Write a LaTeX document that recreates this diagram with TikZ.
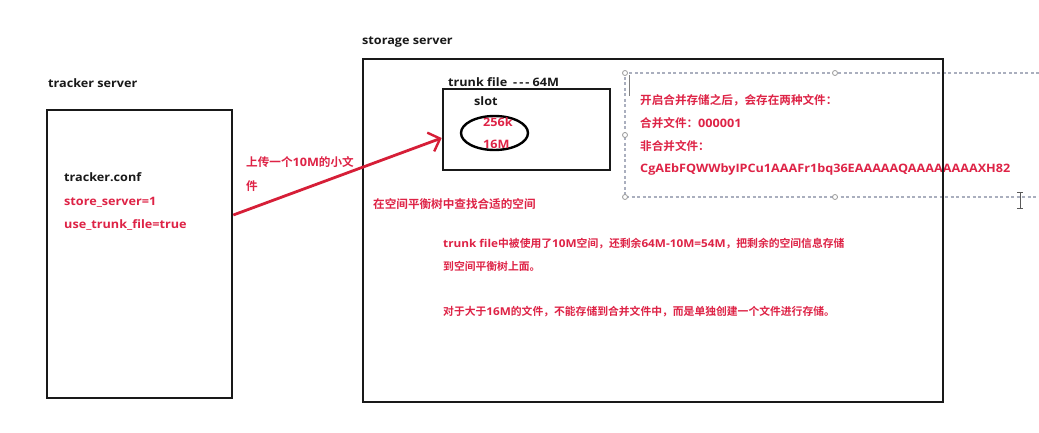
\documentclass[tikz,border=0pt]{standalone}
\usepackage{fontspec}
\setmainfont{Noto Sans CJK SC}[BoldFont={Noto Sans CJK SC Bold}]
\newfontfamily\lat{Open Sans}[FakeStretch=1.09]
\usetikzlibrary{arrows.meta,shapes.geometric}
\definecolor{redtxt}{RGB}{222,35,70}
\definecolor{redline}{RGB}{214,30,55}
\definecolor{darktxt}{RGB}{25,25,25}
\definecolor{dashgray}{RGB}{170,175,190}
\tikzset{
  box/.style={draw=black!90, line width=2.6pt, rectangle, inner sep=0pt},
  lbl/.style={anchor=base west, inner sep=0pt, font=\bfseries\fontsize{11.6}{14}\selectfont, text=darktxt},
  rlbl/.style={lbl, text=redtxt},
  slbl/.style={rlbl, font=\bfseries\fontsize{10.8}{13}\selectfont},
  handle/.style={circle, draw=gray!80, fill=white, line width=0.8pt, minimum size=5pt, inner sep=0pt},
}
\begin{document}
\begin{tikzpicture}[x=1pt,y=-1pt]
\useasboundingbox[fill=white] (0,0) rectangle (1039,433);

% dashed text frame (selection box)
\draw[dashgray, line width=1.1pt, dash pattern=on 3pt off 2.5pt] (1039,73) -- (625,73) -- (625,197) -- (1039,197);
\node[handle] (h1) at (625,73) {};
\node[handle] (h2) at (835,73) {};
\node[handle] (h3) at (625,135) {};
\node[handle] (h4) at (625,197) {};
\node[handle] (h5) at (835,197) {};
\draw[gray, line width=0.8pt] (629,75) -- (629,96);

\node[rlbl] (n1) at (640,105) {开启合并存储之后，会存在两种文件：};
\node[rlbl] (n2) at (640,127.5) {合并文件：{\lat 000001}};
\node[rlbl] (n3) at (640,150) {非合并文件：};
\node[rlbl] (n4) at (640,172) {\lat CgAEbFQWWbyIPCu1AAAFr1bq36EAAAAAQAAAAAAAAXH82};

% boxes
\node[box, minimum width=185pt, minimum height=288pt] (tracker) at (139.5,254) {};
\node[box, minimum width=580pt, minimum height=343pt] (storage) at (653,230.5) {};
\node[box, minimum width=167pt, minimum height=81pt] (trunk) at (526.5,129.5) {};
\node[draw=black, line width=2.4pt, ellipse, minimum width=67pt, minimum height=34pt, inner sep=0pt] (slotell) at (494.5,133) {};

% labels
\node[lbl] (tl) at (48,88) {\lat tracker server};
\node[lbl] (sl) at (362,45) {\lat storage server};
\node[lbl] (tconf) at (64,182) {\lat tracker.conf};
\node[rlbl] (ss) at (64,205) {\lat store\_server=1};
\node[rlbl] (ut) at (64,228) {\lat use\_trunk\_file=true};
\node[lbl] (tf) at (448,87) {\lat trunk file\hspace{6pt}{-}\,{-}\,{-} 64M};
\node[lbl] (slot) at (474,106) {\lat slot};
\node[rlbl] (k256) at (483,127) {\lat 256k};
\node[rlbl] (m16) at (483,149) {\lat 16M};

\node[rlbl] (up1) at (246,167) {上传一个{\lat 10M}的小文};
\node[rlbl] (up2) at (246,190) {件};

\node[rlbl] (find) at (373,208) {在空间平衡树中查找合适的空间};
\node[slbl] (d1) at (443,247) {{\lat trunk file}中被使用了{\lat 10M}空间，还剩余{\lat 64M-10M=54M}，把剩余的空间信息存储};
\node[slbl] (d2) at (443,270) {到空间平衡树上面。};
\node[slbl] (d3) at (443,315) {对于大于{\lat 16M}的文件，不能存储到合并文件中，而是单独创建一个文件进行存储。};

% upload arrow
\draw[redline, line width=2.8pt, -{Straight Barb[length=10pt,width=20pt,line width=2.4pt]}]
  ([yshift=39pt]tracker.east) -- ([yshift=-8.5pt]trunk.west);

% text cursor
\draw[gray!70!black, line width=1pt] (1020,193) -- (1020,208) (1017,192.5) -- (1023,192.5) (1017,208.5) -- (1023,208.5);
\end{tikzpicture}
\end{document}
